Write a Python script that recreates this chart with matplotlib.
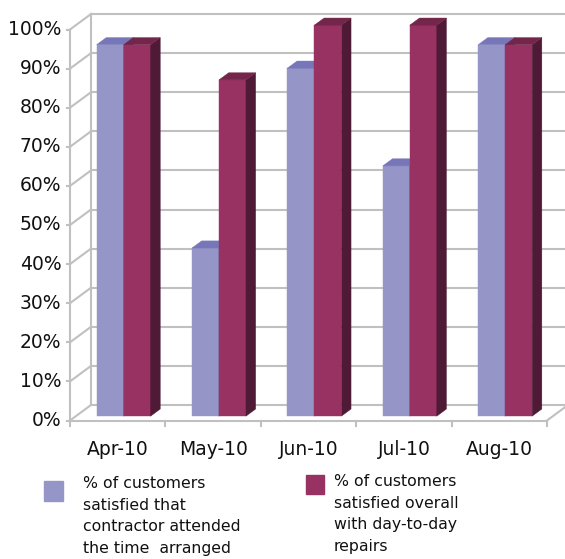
import matplotlib
matplotlib.use('Agg')
import matplotlib.pyplot as plt
from matplotlib.patches import Polygon

# 数据
months = ['Apr-10', 'May-10', 'Jun-10', 'Jul-10', 'Aug-10']
attended = [95, 43, 89, 64, 95]
overall = [95, 86, 100, 100, 95]
yticks = list(range(0, 101, 10))
label_attended = '% of customers\nsatisfied that\ncontractor attended\nthe time  arranged'
label_overall = '% of customers\nsatisfied overall\nwith day-to-day\nrepairs'

# 颜色 (正面, 侧面, 顶面)
blue = ('#9595c8', '#5a5a96', '#7676b8')
red = ('#983262', '#4f1a36', '#74254a')
grid_c = '#c0c0c0'

W, H = 565, 559
fig = plt.figure(figsize=(W / 100, H / 100), dpi=100)
ax = fig.add_axes([70 / W, (H - 420.5) / H, 477 / W, 391 / H])
ax.set_xlim(-0.5, len(months) - 0.5)
ax.set_ylim(0, 100)
ax.axis('off')

# 3D 深度偏移 (像素)
DX, DY = 21, 15.5
sx = 477 / len(months)
sy = 391 / 100


def pt(x, y, d):
    return (x + DX * d / sx, y + DY * d / sy)


x0, x1 = -0.5, len(months) - 0.5
lkw = dict(color=grid_c, lw=1.5, clip_on=False, zorder=1)

# 背景网格线 + 左墙
for y in yticks:
    a, b = pt(x0, y, 0), pt(x0, y, 1)
    ax.plot([a[0], b[0]], [a[1], b[1]], **lkw)
    c = pt(x1 + 0.2, y, 1)
    ax.plot([b[0], c[0]], [b[1], c[1]], **lkw)
    ax.plot([x0 - 0.03, x0], [y, y], **lkw)
    ax.text(x0 - 0.09, y, f'{y}%', ha='right', va='center', fontsize=13.5, color='#111111')

a, b = pt(x0, 0, 1), pt(x0, 100, 1)
ax.plot([a[0], b[0]], [a[1], b[1]], **lkw)
ax.plot([x0, x0], [0, 100], **lkw)

# 地板
ax.plot([x0, x1], [0, 0], **lkw)
a, b = pt(x1, 0, 0), pt(x1, 0, 1)
ax.plot([a[0], b[0]], [a[1], b[1]], **lkw)
for i in range(len(months) + 1):
    ax.plot([x0 + i, x0 + i], [0, -1.4], **lkw)
for i, m in enumerate(months):
    ax.text(i, -7.3, m, ha='center', va='center', fontsize=13.5, color='#111111')

# 柱子
bw = 0.283
d0, d1 = 0.28, 0.74


def bar3d(xl, h, cols):
    xr = xl + bw
    front = [pt(xl, 0, d0), pt(xr, 0, d0), pt(xr, h, d0), pt(xl, h, d0)]
    side = [pt(xr, 0, d0), pt(xr, 0, d1), pt(xr, h, d1), pt(xr, h, d0)]
    top = [pt(xl, h, d0), pt(xr, h, d0), pt(xr, h, d1), pt(xl, h, d1)]
    for poly, c in ((front, cols[0]), (side, cols[1]), (top, cols[2])):
        ax.add_patch(Polygon(poly, closed=True, facecolor=c, edgecolor=c,
                             lw=0.3, clip_on=False, zorder=3))


for i in range(len(months)):
    bar3d(i - bw, attended[i], blue)
    bar3d(i, overall[i], red)

# 图例
fig.patches.append(plt.Rectangle((44 / W, 1 - 501 / H), 19 / W, 20 / H,
                                 transform=fig.transFigure, color=blue[0]))
fig.patches.append(plt.Rectangle((306 / W, 1 - 494 / H), 18 / W, 19 / H,
                                 transform=fig.transFigure, color=red[0]))
fig.text(83 / W, 1 - 476 / H, label_attended, ha='left', va='top',
         fontsize=11.3, linespacing=1.55, color='#111111')
fig.text(334 / W, 1 - 474 / H, label_overall, ha='left', va='top',
         fontsize=11.3, linespacing=1.55, color='#111111')

fig.savefig('out.png', dpi=100)
